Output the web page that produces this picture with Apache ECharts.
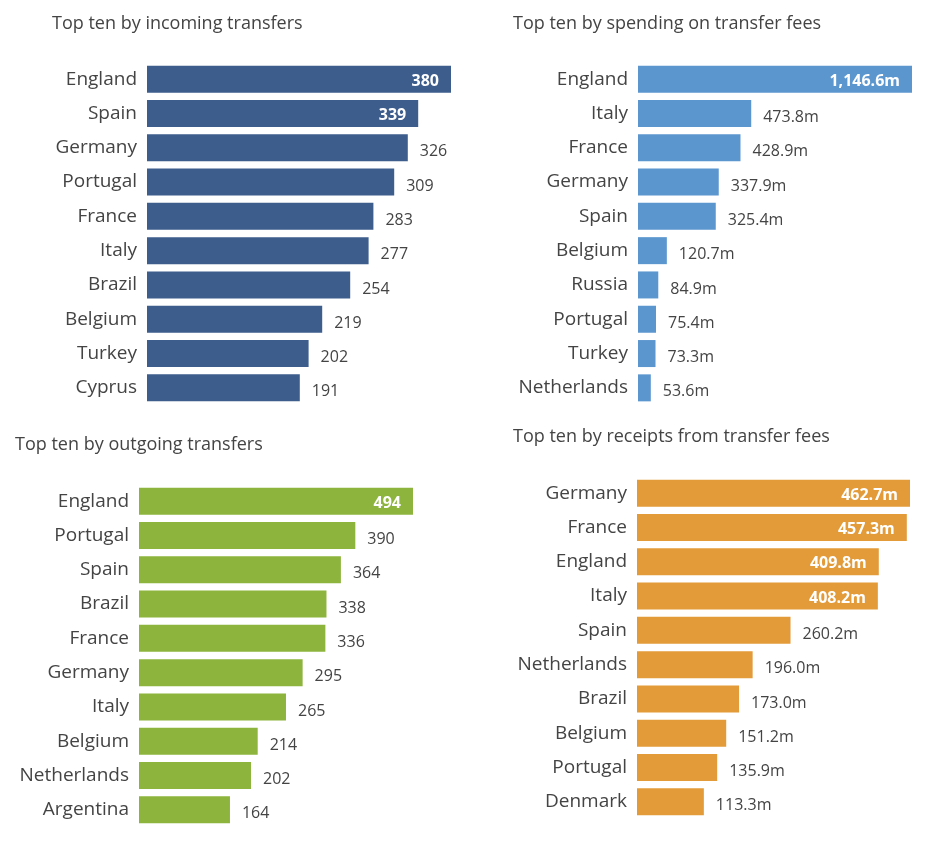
<!DOCTYPE html>
<html lang="en">
<head>
  <meta charset="UTF-8">
  <script src="https://cdn.jsdelivr.net/npm/echarts@6/dist/echarts.min.js"></script>
  <title>Top ten transfers</title>
</head>
<body>
  <div id="chart"></div>
</body>
<style>
  html,body{ padding:0; margin:0; background:#fff; }
  #chart { width:940px; height:844px; }
</style>
<script>
const inCats = ['England','Spain','Germany','Portugal','France','Italy','Brazil','Belgium','Turkey','Cyprus']
const inVals = [380,339,326,309,283,277,254,219,202,191]
const spendCats = ['England','Italy','France','Germany','Spain','Belgium','Russia','Portugal','Turkey','Netherlands']
const spendVals = [1146.6,473.8,428.9,337.9,325.4,120.7,84.9,75.4,73.3,53.6]
const outCats = ['England','Portugal','Spain','Brazil','France','Germany','Italy','Belgium','Netherlands','Argentina']
const outVals = [494,390,364,338,336,295,265,214,202,164]
const recCats = ['Germany','France','England','Italy','Spain','Netherlands','Brazil','Belgium','Portugal','Denmark']
const recVals = [462.7,457.3,409.8,408.2,260.2,196.0,173.0,151.2,135.9,113.3]

const font = '"Open Sans", "Noto Sans", sans-serif'
const txt = '#444'

const panels = [
  {title:'Top ten by incoming transfers', tx:47, ty:10, cats:inCats, vals:inVals, color:'#3d5d8d', left:147, width:304, top:62, inside:2, fmt:v => String(v)},
  {title:'Top ten by spending on transfer fees', tx:508, ty:10, cats:spendCats, vals:spendVals, color:'#5b96cf', left:638, width:274, top:62, inside:1, fmt:v => v.toLocaleString('en-US',{minimumFractionDigits:1})+'m'},
  {title:'Top ten by outgoing transfers', tx:10, ty:431, cats:outCats, vals:outVals, color:'#8db43c', left:139, width:274, top:484, inside:1, fmt:v => String(v)},
  {title:'Top ten by receipts from transfer fees', tx:508, ty:423, cats:recCats, vals:recVals, color:'#e39b3a', left:637, width:273, top:476, inside:4, fmt:v => v.toFixed(1)+'m'}
]

const option = {
  animation:false,
  title: panels.map(p => ({text:p.title, left:p.tx, top:p.ty, textStyle:{fontFamily:font, fontSize:18, fontWeight:'normal', color:txt}})),
  grid: panels.map(p => ({left:p.left, top:p.top, width:p.width, height:343})),
  xAxis: panels.map((p,i) => ({type:'value', gridIndex:i, min:0, max:p.vals[0], show:false})),
  yAxis: panels.map((p,i) => ({type:'category', gridIndex:i, inverse:true, data:p.cats,
    axisLine:{show:false}, axisTick:{show:false},
    axisLabel:{fontFamily:font, fontSize:19, color:txt, margin:10}})),
  series: panels.map((p,i) => ({
    type:'bar', xAxisIndex:i, yAxisIndex:i, barWidth:27,
    itemStyle:{color:p.color},
    data:p.vals.map((v,j) => j < p.inside
      ? {value:v, label:{position:'insideRight', color:'#fff', fontWeight:'bold', offset:[0,2]}}
      : {value:v}),
    label:{show:true, position:'right', distance:12, offset:[0,4], fontFamily:font, fontSize:16, color:txt,
      formatter:q => p.fmt(q.value)}
  }))
}

const myChart = echarts.init(document.getElementById('chart'))
myChart.setOption(option)
</script>
</html>
